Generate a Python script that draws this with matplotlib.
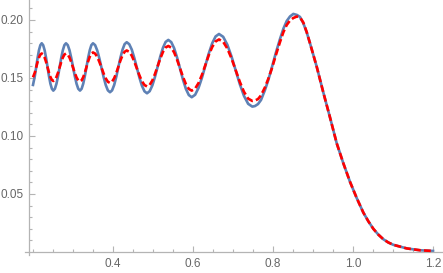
import matplotlib
matplotlib.use("Agg")
import matplotlib.pyplot as plt
from matplotlib.ticker import FixedLocator

plt.rcParams['font.family'] = ['Liberation Sans', 'DejaVu Sans']

# values (both curves share the x samples)
x = [0.200, 0.2046, 0.2081, 0.2115, 0.2149, 0.2184, 0.2218,
     0.2254, 0.2291, 0.2327, 0.2363, 0.2399, 0.2435, 0.2472, 0.2508,
     0.2548, 0.2587, 0.2627, 0.2667, 0.2706, 0.2746, 0.2785, 0.2825,
     0.2869, 0.2913, 0.2956, 0.3000, 0.3044, 0.3088, 0.3131, 0.3175,
     0.3216, 0.3256, 0.3297, 0.3338, 0.3378, 0.3419, 0.3459, 0.3500,
     0.3553, 0.3606, 0.3659, 0.3713, 0.3766, 0.3819, 0.3872, 0.3925,
     0.3977, 0.4030, 0.4082, 0.4134, 0.4186, 0.4239, 0.4291, 0.4343,
     0.4406, 0.4470, 0.4533, 0.4597, 0.4660, 0.4723, 0.4787, 0.4850,
     0.4917, 0.4983, 0.5050, 0.5117, 0.5183, 0.5250, 0.5316, 0.5383,
     0.5456, 0.5529, 0.5602, 0.5676, 0.5749, 0.5822, 0.5895, 0.5968,
     0.6053, 0.6138, 0.6224, 0.6309, 0.6394, 0.6480, 0.6565, 0.6650,
     0.6754, 0.6858, 0.6962, 0.7067, 0.7171, 0.7275, 0.7379, 0.7483,
     0.7550, 0.7625, 0.7700, 0.7800, 0.7885, 0.7968, 0.8070, 0.8175, 0.8260, 0.8343, 0.8425, 0.8508,
     0.8600, 0.8675, 0.8758, 0.8843, 0.8925, 0.9093, 0.9258, 0.9425, 0.9593, 0.9758, 0.9925,
     1.0093, 1.0258, 1.0383, 1.0508, 1.0633, 1.0758, 1.0883, 1.1008, 1.1343, 1.1675, 1.2000]

blue_y = [0.1440, 0.1517, 0.1595, 0.1673, 0.1739, 0.1783, 0.1799,
          0.1783, 0.1739, 0.1673, 0.1595, 0.1517, 0.1451, 0.1407, 0.1391,
          0.1407, 0.1451, 0.1517, 0.1595, 0.1673, 0.1739, 0.1783, 0.1799,
          0.1783, 0.1739, 0.1673, 0.1595, 0.1517, 0.1451, 0.1407, 0.1391,
          0.1407, 0.1451, 0.1517, 0.1595, 0.1673, 0.1739, 0.1783, 0.1799,
          0.1783, 0.1737, 0.1669, 0.1588, 0.1507, 0.1439, 0.1393, 0.1377,
          0.1393, 0.1440, 0.1510, 0.1593, 0.1675, 0.1745, 0.1792, 0.1808,
          0.1791, 0.1744, 0.1672, 0.1588, 0.1504, 0.1433, 0.1385, 0.1368,
          0.1386, 0.1435, 0.1510, 0.1598, 0.1686, 0.1761, 0.1811, 0.1828,
          0.1809, 0.1756, 0.1676, 0.1581, 0.1486, 0.1406, 0.1353, 0.1334,
          0.1355, 0.1414, 0.1502, 0.1607, 0.1711, 0.1799, 0.1858, 0.1879,
          0.1855, 0.1787, 0.1686, 0.1566, 0.1446, 0.1345, 0.1277, 0.1253,
          0.1258, 0.1275, 0.1310, 0.1397, 0.1485, 0.1586, 0.1715, 0.1836, 0.1925, 0.1991, 0.2030, 0.2052,
          0.2043, 0.2026, 0.1972, 0.1893, 0.1799, 0.1597, 0.1375, 0.1160, 0.0937, 0.0765, 0.0605,
          0.0465, 0.0340, 0.0265, 0.0200, 0.0150, 0.0110, 0.0082, 0.0062, 0.0031, 0.0015, 0.0009]

red_y = [0.1506, 0.1547, 0.1593, 0.1638, 0.1676, 0.1702, 0.1711,
         0.1702, 0.1676, 0.1638, 0.1593, 0.1547, 0.1509, 0.1483, 0.1474,
         0.1483, 0.1509, 0.1547, 0.1593, 0.1638, 0.1676, 0.1702, 0.1711,
         0.1702, 0.1676, 0.1637, 0.1591, 0.1544, 0.1505, 0.1479, 0.1470,
         0.1480, 0.1507, 0.1547, 0.1595, 0.1643, 0.1683, 0.1711, 0.1720,
         0.1710, 0.1682, 0.1639, 0.1589, 0.1538, 0.1496, 0.1467, 0.1457,
         0.1468, 0.1498, 0.1543, 0.1597, 0.1651, 0.1696, 0.1726, 0.1737,
         0.1725, 0.1692, 0.1641, 0.1582, 0.1523, 0.1472, 0.1439, 0.1427,
         0.1440, 0.1478, 0.1535, 0.1602, 0.1668, 0.1725, 0.1763, 0.1776,
         0.1761, 0.1720, 0.1657, 0.1584, 0.1510, 0.1447, 0.1406, 0.1391,
         0.1408, 0.1456, 0.1527, 0.1612, 0.1696, 0.1767, 0.1815, 0.1832,
         0.1812, 0.1754, 0.1669, 0.1567, 0.1466, 0.1380, 0.1322, 0.1302,
         0.1306, 0.1318, 0.1350, 0.1420, 0.1495, 0.1578, 0.1695, 0.1810, 0.1895, 0.1957, 0.1995, 0.2017,
         0.2030, 0.2022, 0.1978, 0.1895, 0.1799, 0.1597, 0.1375, 0.1160, 0.0937, 0.0765, 0.0605,
         0.0465, 0.0340, 0.0265, 0.0200, 0.0150, 0.0110, 0.0082, 0.0062, 0.0031, 0.0015, 0.0009]

x_ticks = [0.4, 0.6, 0.8, 1.0, 1.2]
x_labels = ['0.4', '0.6', '0.8', '1.0', '1.2']
y_ticks = [0.05, 0.10, 0.15, 0.20]
y_labels = ['0.05', '0.10', '0.15', '0.20']

fig = plt.figure(figsize=(4.43, 2.73), dpi=100)
ax = fig.add_axes([0, 0, 1, 1])
ax.set_xlim(0.1175, 1.225)
ax.set_ylim(-0.0181, 0.2172)

ax.plot(x, blue_y, color='#5E81B5', lw=1.9, solid_joinstyle='round', zorder=2)
ax.plot(x, red_y, color='#FF0000', lw=1.9, dashes=(2.6, 1.2), zorder=3)

# Mathematica-style axes crossing near (0.19, 0)
for s in ['top', 'right']:
    ax.spines[s].set_visible(False)
ax.spines['left'].set_position(('data', 0.19))
ax.spines['bottom'].set_position(('data', 0.0))
ax.spines['left'].set_bounds(-0.003, 0.2172)
ax.spines['bottom'].set_bounds(0.18, 1.225)
for s in ['left', 'bottom']:
    ax.spines[s].set_color('#b4b4b4')
    ax.spines[s].set_linewidth(0.9)

ax.xaxis.set_major_locator(FixedLocator(x_ticks))
ax.xaxis.set_minor_locator(FixedLocator([0.2, 0.25, 0.3, 0.35, 0.45, 0.5, 0.55, 0.65, 0.7, 0.75,
                                         0.85, 0.9, 0.95, 1.05, 1.1, 1.15]))
ax.yaxis.set_major_locator(FixedLocator(y_ticks))
ax.yaxis.set_minor_locator(FixedLocator([0.01, 0.02, 0.03, 0.04, 0.06, 0.07, 0.08, 0.09,
                                         0.11, 0.12, 0.13, 0.14, 0.16, 0.17, 0.18, 0.19, 0.21]))
ax.set_xticklabels(x_labels)
ax.set_yticklabels(y_labels)

ax.tick_params(which='both', direction='in', color='#b4b4b4', width=0.8,
               labelcolor='#666666', labelsize=8.5)
ax.tick_params(which='major', length=4)
ax.tick_params(which='minor', length=2.3)
ax.tick_params(axis='x', pad=4)
ax.tick_params(axis='y', pad=4)

fig.savefig('out.png', dpi=100)
